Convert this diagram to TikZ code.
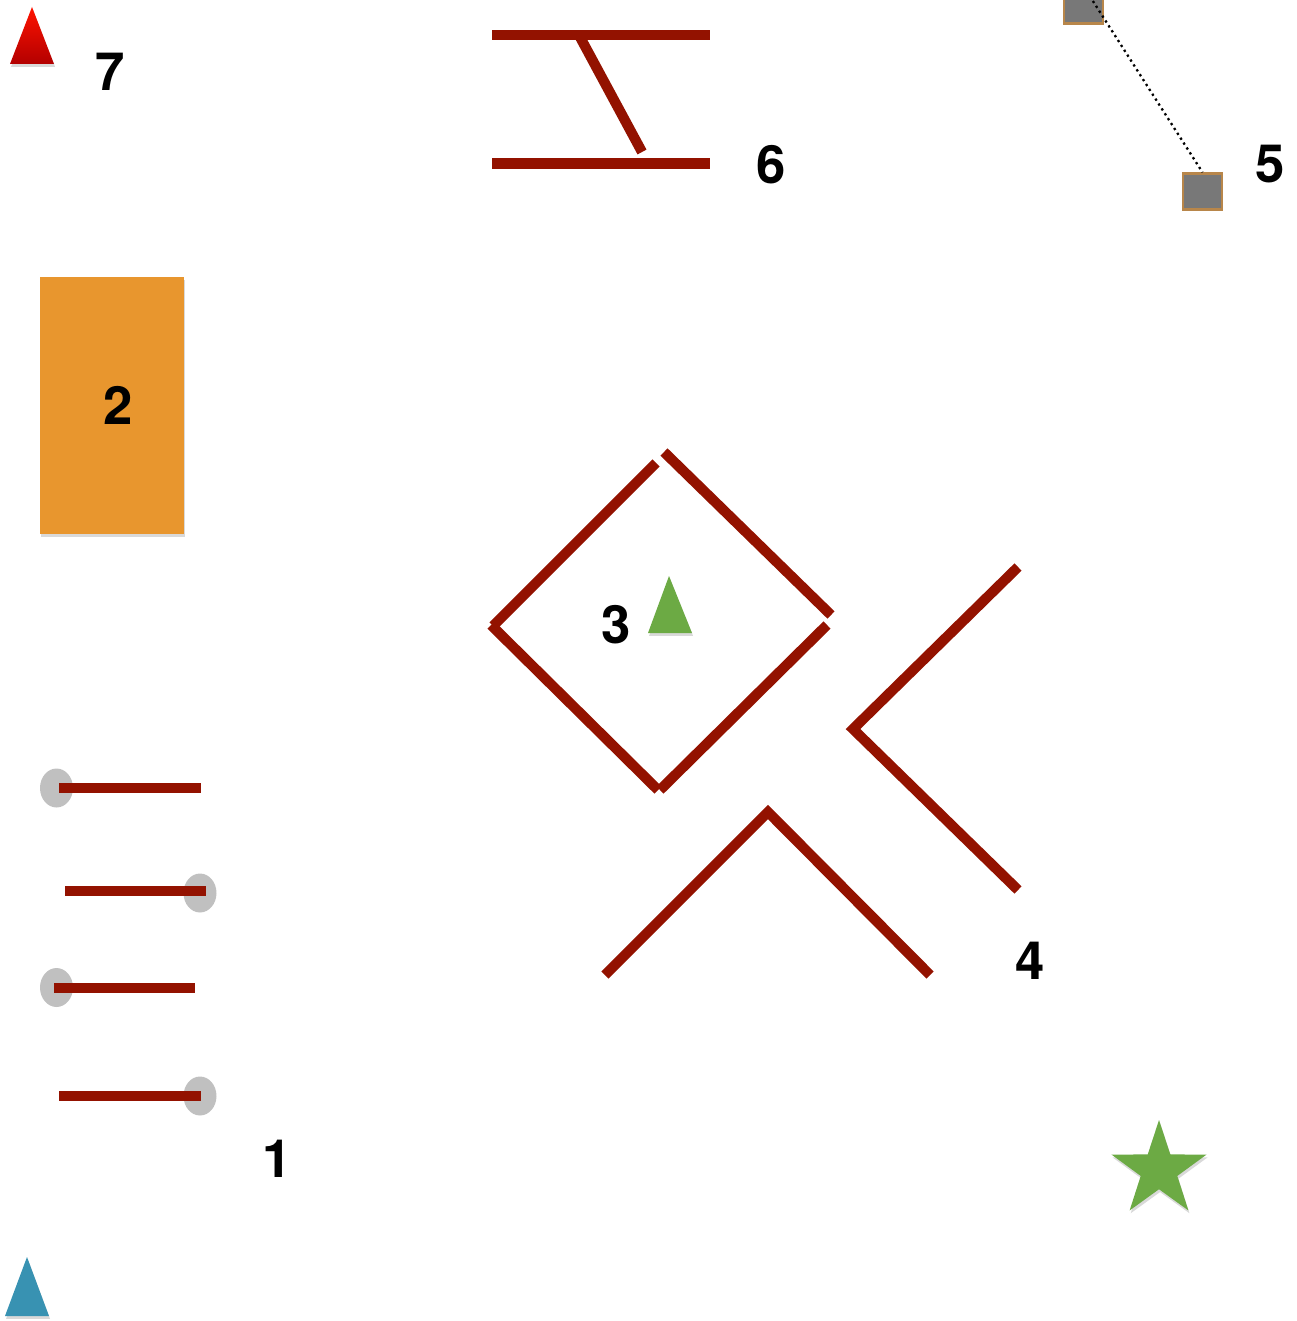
\documentclass[tikz,border=0pt]{standalone}
\usepackage{fontspec}
\newfontfamily\numfont{TeX Gyre Heros}
\usepackage{xcolor}
\usepackage{tikz}
\usetikzlibrary{shapes.geometric,shadows}
\definecolor{wallred}{RGB}{147,18,0}
\definecolor{boxorange}{RGB}{232,150,46}
\definecolor{leafgreen}{RGB}{108,170,68}
\definecolor{seablue}{RGB}{56,146,178}
\definecolor{knobgray}{RGB}{192,192,192}
\definecolor{slate}{RGB}{120,120,120}
\definecolor{tan}{RGB}{184,134,74}

\begin{document}
\begin{tikzpicture}[x=0.02cm, y=-0.02cm,
    wall/.style={draw=wallred, line width=5.8pt},
    num/.style={font=\numfont\bfseries\fontsize{30}{31}\selectfont, inner sep=0pt},
    soft/.style={drop shadow={shadow xshift=0.6pt, shadow yshift=-1.6pt, opacity=0.3}},
    knob/.style={ellipse, fill=knobgray, minimum width=0.66cm, minimum height=0.78cm, inner sep=0pt},
    tile/.style={rectangle, fill=slate, draw=tan, line width=1.3pt, minimum width=0.78cm, minimum height=0.72cm, inner sep=0pt}]
    \useasboundingbox (0,0) rectangle (1296,1321);

    % markers
    \shade[top color=red!85!orange, bottom color=red!70!black, soft] (32,7) -- (54,64) -- (10,64) -- cycle;
    \fill[seablue, soft] (27,1257) -- (49,1316) -- (5,1316) -- cycle;
    \fill[leafgreen, soft] (669,576) -- (692,633) -- (648,633) -- cycle;
    \node[star, star points=5, star point ratio=2.6, minimum size=2cm, inner sep=0pt, fill=leafgreen, soft] (star) at (1159,1170) {};

    % 2
    \node[rectangle, fill=boxorange, minimum width=2.88cm, minimum height=5.14cm, inner sep=0pt, soft] (box) at (112,405.5) {};

    % 6
    \draw[wall] (492,35) -- (710,35);
    \draw[wall] (492,163.5) -- (710,163.5);
    \draw[wall] (580,37) -- (642,152);

    % 3
    \draw[wall] (656,463) -- (493,626);
    \draw[wall] (491,625) -- (658,790);
    \draw[wall] (660,790) -- (827,625);
    \draw[wall] (664,452) -- (831,615);

    % 4
    \draw[wall] (1018,567) -- (853,729) -- (1018,890);
    \draw[wall] (605,975) -- (768,812) -- (930,975);

    % 1
    \foreach \i/\y/\xa/\xb/\kx/\ky in {1/788/59/201/56.5/788, 2/891/65/206/200/893,
                                       3/988/54/195/56.5/987.5, 4/1096/59/201/200/1096} {
      \node[knob] (knob\i) at (\kx,\ky) {};
      \draw[wall] (\xa,\y) -- (\xb,\y);
    }

    % 5
    \node[tile] (tileA) at (1083.5,5.5) {};
    \node[tile] (tileB) at (1202.5,191.5) {};
    \draw[dotted, line width=1.3pt] (tileA.north) -- (tileB.north);

    \node[num] (n1) at (277,1159) {1};
    \node[num] (n2) at (118,405) {2};
    \node[num] (n3) at (616,625) {3};
    \node[num] (n4) at (1030,961) {4};
    \node[num] (n5) at (1270,164) {5};
    \node[num] (n6) at (771,165) {6};
    \node[num] (n7) at (110,72) {7};
\end{tikzpicture}
\end{document}
